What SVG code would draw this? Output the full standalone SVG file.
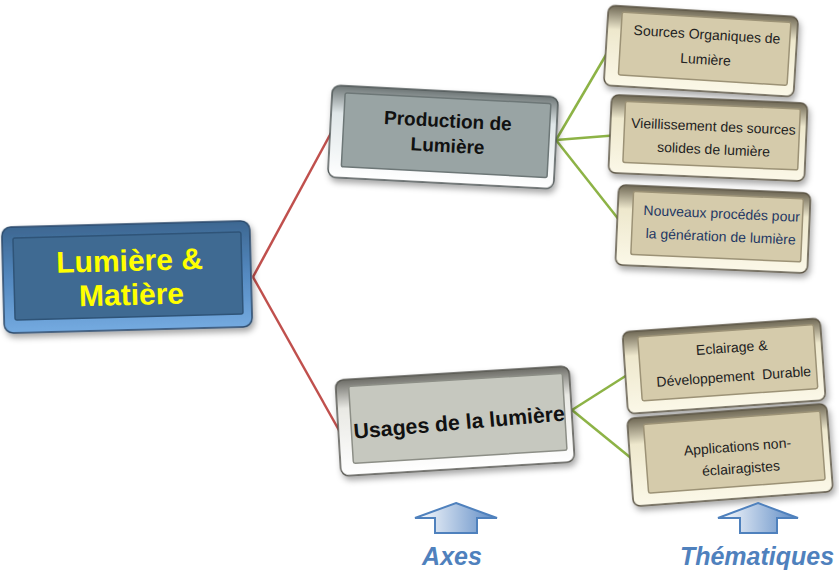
<svg xmlns="http://www.w3.org/2000/svg" width="839" height="573" viewBox="0 0 839 573">
<defs>
  <filter id="sh" x="-20%" y="-20%" width="140%" height="150%">
    <feDropShadow dx="2" dy="4" stdDeviation="3" flood-color="#000" flood-opacity="0.35"/>
  </filter>
  <linearGradient id="gBlueBev" x1="0" y1="0" x2="0" y2="1">
    <stop offset="0" stop-color="#3d6791"/>
    <stop offset="0.5" stop-color="#5489c0"/>
    <stop offset="1" stop-color="#74aae0"/>
  </linearGradient>
  <linearGradient id="gGrayBev" x1="0" y1="0" x2="0" y2="1">
    <stop offset="0" stop-color="#6e7676"/>
    <stop offset="0.3" stop-color="#dfe6e8"/>
    <stop offset="1" stop-color="#ffffff"/>
  </linearGradient>
  <linearGradient id="gLightBev" x1="0" y1="0" x2="0" y2="1">
    <stop offset="0" stop-color="#6c6c66"/>
    <stop offset="0.3" stop-color="#e9e9e4"/>
    <stop offset="1" stop-color="#ffffff"/>
  </linearGradient>
  <linearGradient id="gTanBev" x1="0" y1="0" x2="0" y2="1">
    <stop offset="0" stop-color="#6f6855"/>
    <stop offset="0.3" stop-color="#eee8cd"/>
    <stop offset="1" stop-color="#fbf8e8"/>
  </linearGradient>
  <linearGradient id="gArrow" x1="0" y1="0" x2="1" y2="0">
    <stop offset="0" stop-color="#ffffff"/>
    <stop offset="1" stop-color="#5b89c4"/>
  </linearGradient>
</defs>
<style>
  .edge { fill: none; stroke-width: 2.5; }
  .red { stroke: #c0504d; }
  .green { stroke: #8db346; }
  .outer { filter: url(#sh); }
  .blue .outer { fill: url(#gBlueBev); stroke: #2b4a6b; stroke-width: 1.5; }
  .blue .face { fill: #3f6a92; stroke: #2f5478; stroke-width: 1.5; }
  .gray .outer { fill: url(#gGrayBev); stroke: #4f5757; stroke-width: 1.5; }
  .gray .face { fill: #99a4a4; stroke: #6d7777; stroke-width: 1.5; }
  .lgray .outer { fill: url(#gLightBev); stroke: #55554f; stroke-width: 1.5; }
  .lgray .face { fill: #c6c8bf; stroke: #8c8e86; stroke-width: 1.5; }
  .tan .outer { fill: url(#gTanBev); stroke: #5c5545; stroke-width: 1.5; }
  .tan .face { fill: #d5cbab; stroke: #9c9276; stroke-width: 1.5; }
  text { font-family: "Liberation Sans", Arial, sans-serif; text-anchor: middle; }
  .tmain { font-size: 30px; font-weight: bold; fill: #ffff00; }
  .tmid { font-size: 19px; font-weight: bold; fill: #111111; }
  .tsmall { font-size: 14px; fill: #222222; }
  .tnavy { font-size: 14px; fill: #1f3864; }
  .tlab { font-size: 25px; font-weight: bold; font-style: italic; fill: #4f81bd; }
  .arrow { fill: url(#gArrow); stroke: #4f81bd; stroke-width: 2; stroke-linejoin: miter; }
</style>

<g id="connectors">
  <path class="edge red" d="M253,277 L331,133"/>
  <path class="edge red" d="M253,277 L340,432"/>
  <path class="edge green" d="M556,140 L613,43"/>
  <path class="edge green" d="M556,140 L619,135"/>
  <path class="edge green" d="M556,140 L627,230"/>
  <path class="edge green" d="M572,410 L635,370"/>
  <path class="edge green" d="M572,410 L642,467"/>
</g>

<g id="node-main" class="blue" transform="translate(127,277) rotate(-1.5)">
  <rect class="outer" x="-124" y="-53" width="248" height="106" rx="9"/>
  <rect class="face" x="-113" y="-42" width="228" height="82" rx="2"/>
  <text class="tmain" x="3" y="-6">Lumière &amp;</text>
  <text class="tmain" x="4" y="28">Matière</text>
</g>

<g id="node-production" class="gray" transform="translate(443,137) rotate(3)">
  <rect class="outer" x="-113" y="-46" width="226" height="92" rx="8"/>
  <rect class="face" x="-100" y="-39" width="206" height="74" rx="2"/>
  <text class="tmid" x="4" y="-10">Production de</text>
  <text class="tmid" x="5" y="15">Lumière</text>
</g>

<g id="node-usages" class="lgray" transform="translate(455,421) rotate(-3.5)">
  <rect class="outer" x="-117" y="-48" width="234" height="96" rx="8"/>
  <rect class="face" x="-104" y="-41" width="214" height="77" rx="2"/>
  <text class="tmid" x="4" y="9" style="font-size:21.3px" transform="rotate(-1.5)">Usages de la lumière</text>
</g>

<g id="node-sources" class="tan" transform="translate(701,51) rotate(3.5)">
  <rect class="outer" x="-95" y="-40" width="190" height="80" rx="7"/>
  <rect class="face" x="-81" y="-34" width="169" height="63" rx="2"/>
  <text class="tsmall" x="5" y="-12">Sources Organiques de</text>
  <text class="tsmall" x="5" y="13">Lumière</text>
</g>

<g id="node-vieillissement" class="tan" transform="translate(708,138) rotate(2.5)">
  <rect class="outer" x="-98" y="-39" width="196" height="78" rx="7"/>
  <rect class="face" x="-84" y="-33" width="175" height="61" rx="2"/>
  <text class="tsmall" x="5" y="-7">Vieillissement des sources</text>
  <text class="tsmall" x="6" y="16">solides de lumière</text>
</g>

<g id="node-nouveaux" class="tan" transform="translate(713,229) rotate(2.5)">
  <rect class="outer" x="-96" y="-40" width="192" height="80" rx="7"/>
  <rect class="face" x="-81" y="-34" width="170" height="63" rx="2"/>
  <text class="tnavy" x="8" y="-11">Nouveaux procédés pour</text>
  <text class="tnavy" x="8" y="12">la génération de lumière</text>
</g>

<g id="node-eclairage" class="tan" transform="translate(724,366) rotate(-4)">
  <rect class="outer" x="-99" y="-41" width="198" height="82" rx="7"/>
  <rect class="face" x="-84" y="-35" width="176" height="64" rx="2"/>
  <text class="tsmall" x="9" y="-13">Eclairage &amp;</text>
  <text class="tsmall" x="9" y="16" xml:space="preserve">Développement  Durable</text>
</g>

<g id="node-applications" class="tan" transform="translate(730,455) rotate(-4.3)">
  <rect class="outer" x="-100" y="-44" width="200" height="88" rx="7"/>
  <rect class="face" x="-84" y="-37" width="177" height="69" rx="2"/>
  <text class="tsmall" x="8" y="-3">Applications non-</text>
  <text class="tsmall" x="10" y="19">éclairagistes</text>
</g>

<g id="label-axes">
  <path class="arrow" d="M456,503 L497,518 L477,518 L477,533 L435,533 L435,518 L415,518 Z"/>
  <text class="tlab" x="452" y="565">Axes</text>
</g>

<g id="label-thematiques">
  <path class="arrow" d="M758,503 L798,518 L777,518 L777,533 L740,533 L740,518 L718,518 Z"/>
  <text class="tlab" x="757" y="565">Thématiques</text>
</g>
</svg>
